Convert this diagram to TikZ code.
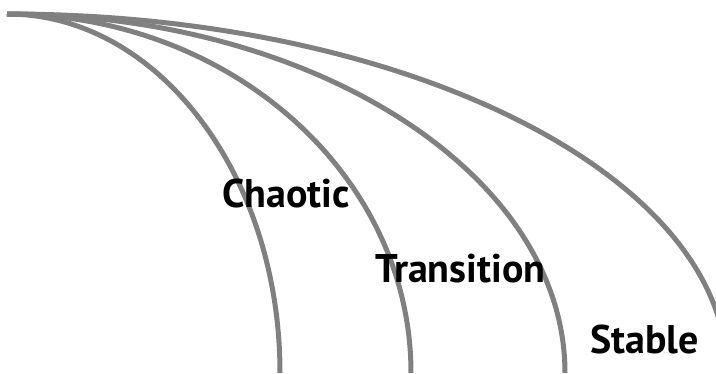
\documentclass[tikz,border=0pt]{standalone}
\usepackage{fontspec}
\setmainfont{PT Sans}
\definecolor{bogen}{RGB}{128,128,128}

\begin{document}
\begin{tikzpicture}[x=1pt, y=-1pt, line width=5pt,
	phase/.style={font=\bfseries\fontsize{40}{42}\selectfont, anchor=base west, inner sep=0pt, text=black}]

	\useasboundingbox (0,0) rectangle (716,373);

	% four quarter ellipses, all leaving the same point horizontally
	\foreach \r in {273,404,558,720}{
		\draw[bogen] (7,14) arc[start angle=-90, end angle=0, x radius=\r, y radius=359];
	}

	\node[phase] (chaotic) at (220,207) {Chaotic};
	\node[phase] (transition) at (373,282) {Transition};
	\node[phase] (stable) at (588,353) {Stable};

\end{tikzpicture}
\end{document}
